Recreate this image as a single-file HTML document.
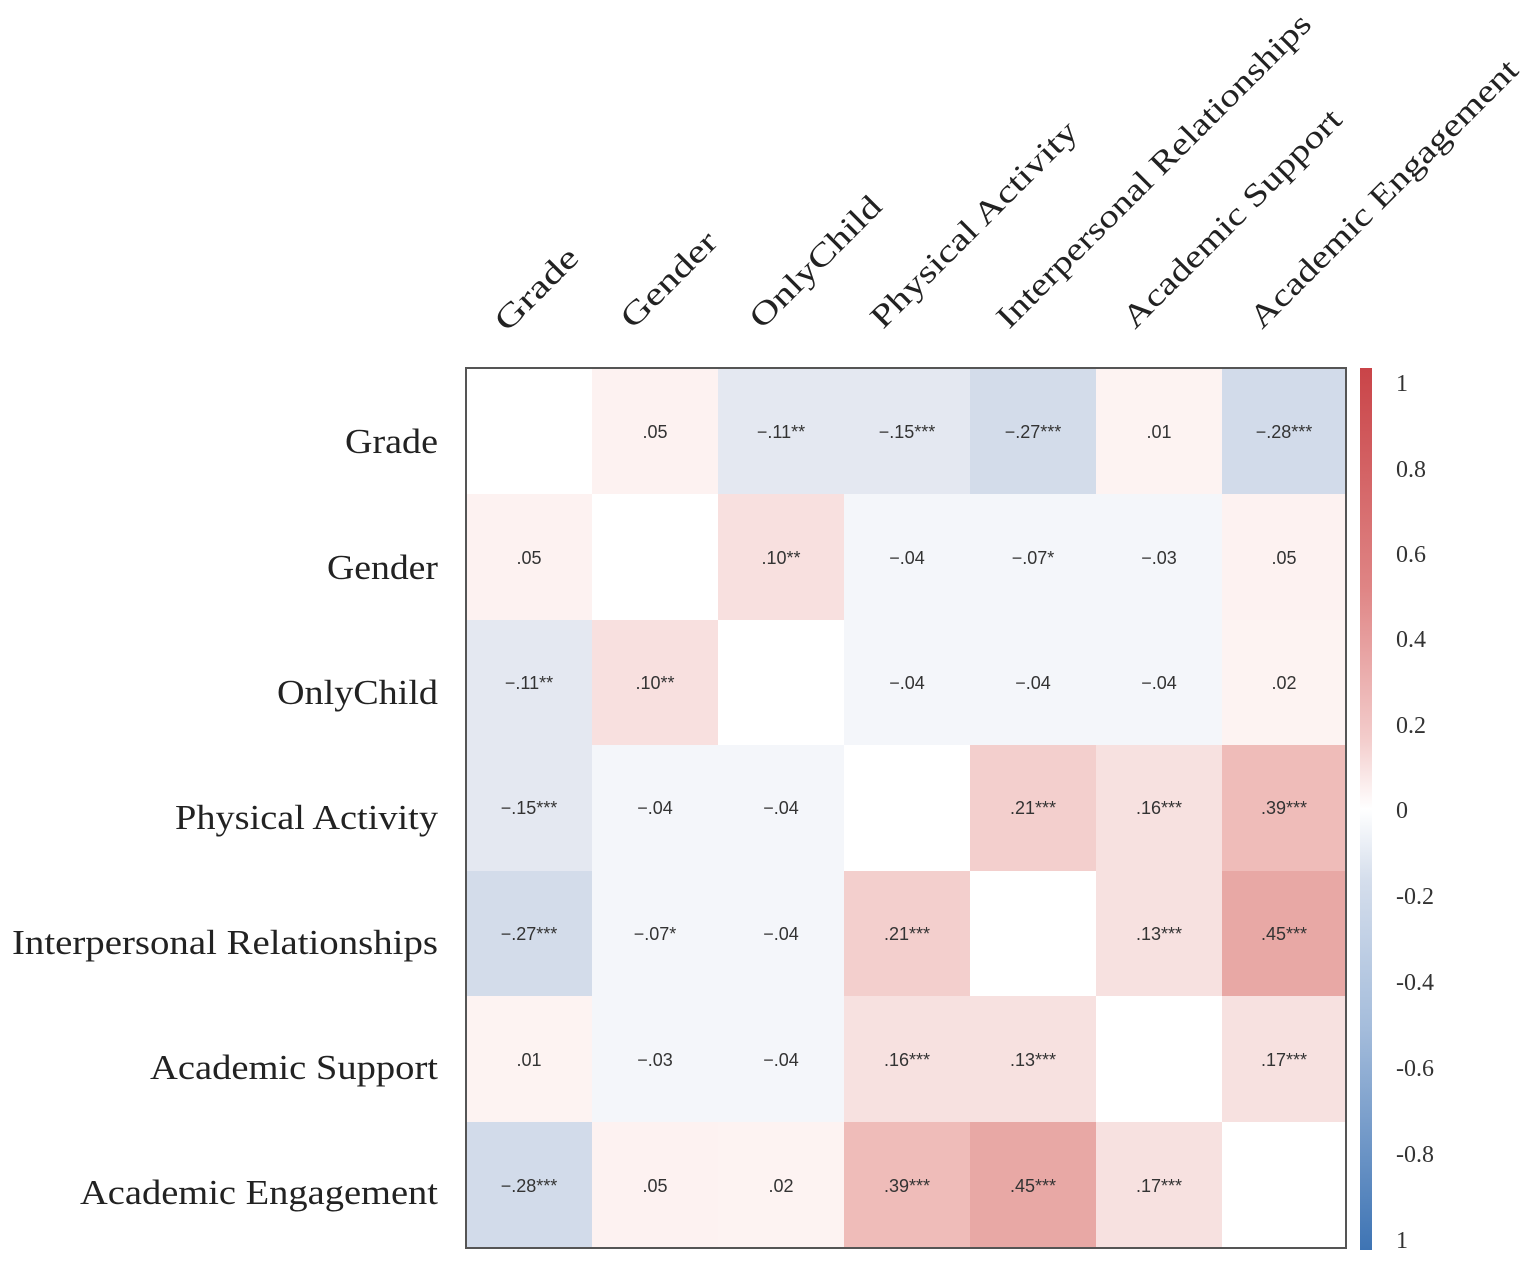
<!DOCTYPE html>
<html><head><meta charset="utf-8"><style>
html,body{margin:0;padding:0;background:#fff;}
svg{display:block;}
.rl{font-family:"Liberation Serif",serif;font-size:35px;fill:#222;}
.cl{font-family:"Liberation Serif",serif;font-size:32px;fill:#222;}
.v{font-family:"Liberation Sans",sans-serif;font-size:18px;fill:#333;text-anchor:middle;}
.cb{font-family:"Liberation Serif",serif;font-size:24px;fill:#333;}
</style></head><body>
<svg width="1535" height="1266" viewBox="0 0 1535 1266" xmlns="http://www.w3.org/2000/svg">
<g>
<rect x="466" y="368" width="126" height="126" fill="#ffffff"/>
<rect x="592" y="368" width="126" height="126" fill="#fdf2f1"/>
<rect x="718" y="368" width="126" height="126" fill="#e4e8f1"/>
<rect x="844" y="368" width="126" height="126" fill="#e4e8f1"/>
<rect x="970" y="368" width="126" height="126" fill="#d3dcea"/>
<rect x="1096" y="368" width="126" height="126" fill="#fdf3f2"/>
<rect x="1222" y="368" width="124" height="126" fill="#d2dbea"/>
<rect x="466" y="494" width="126" height="126" fill="#fdf2f1"/>
<rect x="592" y="494" width="126" height="126" fill="#ffffff"/>
<rect x="718" y="494" width="126" height="126" fill="#f8e0df"/>
<rect x="844" y="494" width="126" height="126" fill="#f4f6fa"/>
<rect x="970" y="494" width="126" height="126" fill="#f4f6fa"/>
<rect x="1096" y="494" width="126" height="126" fill="#f4f6fa"/>
<rect x="1222" y="494" width="124" height="126" fill="#fdf2f1"/>
<rect x="466" y="620" width="126" height="125" fill="#e4e8f1"/>
<rect x="592" y="620" width="126" height="125" fill="#f8e0df"/>
<rect x="718" y="620" width="126" height="125" fill="#ffffff"/>
<rect x="844" y="620" width="126" height="125" fill="#f4f6fa"/>
<rect x="970" y="620" width="126" height="125" fill="#f4f6fa"/>
<rect x="1096" y="620" width="126" height="125" fill="#f4f6fa"/>
<rect x="1222" y="620" width="124" height="125" fill="#fdf3f2"/>
<rect x="466" y="745" width="126" height="126" fill="#e4e8f1"/>
<rect x="592" y="745" width="126" height="126" fill="#f4f6fa"/>
<rect x="718" y="745" width="126" height="126" fill="#f4f6fa"/>
<rect x="844" y="745" width="126" height="126" fill="#ffffff"/>
<rect x="970" y="745" width="126" height="126" fill="#f3cfcd"/>
<rect x="1096" y="745" width="126" height="126" fill="#f7e1e0"/>
<rect x="1222" y="745" width="124" height="126" fill="#efbcb9"/>
<rect x="466" y="871" width="126" height="125" fill="#d3dcea"/>
<rect x="592" y="871" width="126" height="125" fill="#f4f6fa"/>
<rect x="718" y="871" width="126" height="125" fill="#f4f6fa"/>
<rect x="844" y="871" width="126" height="125" fill="#f3cfcd"/>
<rect x="970" y="871" width="126" height="125" fill="#ffffff"/>
<rect x="1096" y="871" width="126" height="125" fill="#f7e1e0"/>
<rect x="1222" y="871" width="124" height="125" fill="#e8a8a5"/>
<rect x="466" y="996" width="126" height="126" fill="#fdf3f2"/>
<rect x="592" y="996" width="126" height="126" fill="#f4f6fa"/>
<rect x="718" y="996" width="126" height="126" fill="#f4f6fa"/>
<rect x="844" y="996" width="126" height="126" fill="#f7e1e0"/>
<rect x="970" y="996" width="126" height="126" fill="#f7e1e0"/>
<rect x="1096" y="996" width="126" height="126" fill="#ffffff"/>
<rect x="1222" y="996" width="124" height="126" fill="#f7e1e0"/>
<rect x="466" y="1122" width="126" height="126" fill="#d2dbea"/>
<rect x="592" y="1122" width="126" height="126" fill="#fdf2f1"/>
<rect x="718" y="1122" width="126" height="126" fill="#fdf3f2"/>
<rect x="844" y="1122" width="126" height="126" fill="#efbcb9"/>
<rect x="970" y="1122" width="126" height="126" fill="#e8a8a5"/>
<rect x="1096" y="1122" width="126" height="126" fill="#f7e1e0"/>
<rect x="1222" y="1122" width="124" height="126" fill="#ffffff"/>
</g>
<rect x="466" y="368" width="880" height="880" fill="none" stroke="#555" stroke-width="2"/>

<g class="v">
<text x="655" y="438">.05</text><text x="781" y="438">−.11**</text><text x="907" y="438">−.15***</text><text x="1033" y="438">−.27***</text><text x="1159" y="438">.01</text><text x="1284" y="438">−.28***</text>
<text x="529" y="564">.05</text><text x="781" y="564">.10**</text><text x="907" y="564">−.04</text><text x="1033" y="564">−.07*</text><text x="1159" y="564">−.03</text><text x="1284" y="564">.05</text>
<text x="529" y="689">−.11**</text><text x="655" y="689">.10**</text><text x="907" y="689">−.04</text><text x="1033" y="689">−.04</text><text x="1159" y="689">−.04</text><text x="1284" y="689">.02</text>
<text x="529" y="814">−.15***</text><text x="655" y="814">−.04</text><text x="781" y="814">−.04</text><text x="1033" y="814">.21***</text><text x="1159" y="814">.16***</text><text x="1284" y="814">.39***</text>
<text x="529" y="940">−.27***</text><text x="655" y="940">−.07*</text><text x="781" y="940">−.04</text><text x="907" y="940">.21***</text><text x="1159" y="940">.13***</text><text x="1284" y="940">.45***</text>
<text x="529" y="1066">.01</text><text x="655" y="1066">−.03</text><text x="781" y="1066">−.04</text><text x="907" y="1066">.16***</text><text x="1033" y="1066">.13***</text><text x="1284" y="1066">.17***</text>
<text x="529" y="1192">−.28***</text><text x="655" y="1192">.05</text><text x="781" y="1192">.02</text><text x="907" y="1192">.39***</text><text x="1033" y="1192">.45***</text><text x="1159" y="1192">.17***</text>
</g>

<g class="rl">
<text x="345" y="453" textLength="93" lengthAdjust="spacingAndGlyphs">Grade</text>
<text x="327" y="579" textLength="111" lengthAdjust="spacingAndGlyphs">Gender</text>
<text x="277" y="704" textLength="161" lengthAdjust="spacingAndGlyphs">OnlyChild</text>
<text x="175" y="829" textLength="263" lengthAdjust="spacingAndGlyphs">Physical Activity</text>
<text x="12" y="954" textLength="426" lengthAdjust="spacingAndGlyphs">Interpersonal Relationships</text>
<text x="150" y="1079" textLength="288" lengthAdjust="spacingAndGlyphs">Academic Support</text>
<text x="80" y="1204" textLength="358" lengthAdjust="spacingAndGlyphs">Academic Engagement</text>
</g>
<g class="cl">
<text transform="translate(507,333) rotate(-45)" textLength="104" lengthAdjust="spacingAndGlyphs">Grade</text>
<text transform="translate(633,330) rotate(-45)" textLength="122" lengthAdjust="spacingAndGlyphs">Gender</text>
<text transform="translate(762,330) rotate(-45)" textLength="172" lengthAdjust="spacingAndGlyphs">OnlyChild</text>
<text transform="translate(883,330) rotate(-45)" textLength="278" lengthAdjust="spacingAndGlyphs">Physical Activity</text>
<text transform="translate(1009,330) rotate(-45)" textLength="430" lengthAdjust="spacingAndGlyphs">Interpersonal Relationships</text>
<text transform="translate(1135,330) rotate(-45)" textLength="295" lengthAdjust="spacingAndGlyphs">Academic Support</text>
<text transform="translate(1262,330) rotate(-45)" textLength="365" lengthAdjust="spacingAndGlyphs">Academic Engagement</text>
</g>

<defs>
<linearGradient id="cbg" x1="0" y1="0" x2="0" y2="1">
<stop offset="0" stop-color="#c94448"/>
<stop offset="0.25" stop-color="#df8585"/>
<stop offset="0.42" stop-color="#f3cccb"/>
<stop offset="0.5" stop-color="#ffffff"/>
<stop offset="0.58" stop-color="#d5deec"/>
<stop offset="0.75" stop-color="#a4bcdb"/>
<stop offset="1" stop-color="#3e74b4"/>
</linearGradient>
</defs>
<rect x="1360" y="368" width="12" height="882" fill="url(#cbg)"/>
<g class="cb">
<text x="1396" y="391">1</text>
<text x="1396" y="477">0.8</text>
<text x="1396" y="562">0.6</text>
<text x="1396" y="647">0.4</text>
<text x="1396" y="733">0.2</text>
<text x="1396" y="818">0</text>
<text x="1396" y="904">-0.2</text>
<text x="1396" y="990">-0.4</text>
<text x="1396" y="1076">-0.6</text>
<text x="1396" y="1162">-0.8</text>
<text x="1396" y="1248">1</text>
</g>
</svg>
</body></html>
